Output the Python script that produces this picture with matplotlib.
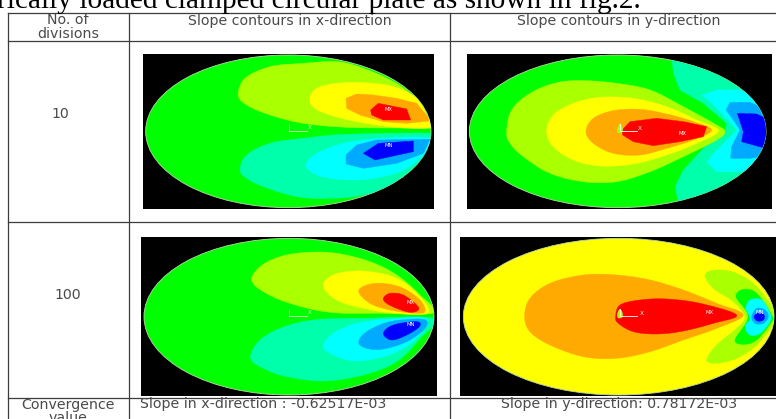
import numpy as np
import matplotlib
matplotlib.use("Agg")
import matplotlib.pyplot as plt
from matplotlib.patches import Polygon, Ellipse, Rectangle

GREEN = "#00ff00"; LIME = "#aaff00"; YELLOW = "#ffff00"; ORANGE = "#ffaa00"; RED = "#ff0000"
TEAL = "#00ffaa"; CYAN = "#00ffff"; SKY = "#00aaff"; BLUE = "#0000ff"

caption = "rically loaded clamped circular plate as shown in fig.2."
header_labels = ["No. of\ndivisions", "Slope contours in x-direction", "Slope contours in y-direction"]
division_labels = ["10", "100"]
footer_labels = ["Convergence\nvalue", "Slope in x-direction : -0.62517E-03", "Slope in y-direction: 0.78172E-03"]

# Contour bands: (colour, outline, smooth?)
panel_a_bands = [
    (LIME, [(325,165),(345,115),(420,80),(520,70),(620,65),(700,85),(790,125),(850,170),(900,240),(905,264),(800,264),(650,262),(520,250),(420,225),(350,195)], True),
    (YELLOW, [(538,178),(560,145),(620,130),(700,128),(790,140),(860,175),(895,235),(905,262),(800,262),(680,245),(600,225),(555,205)], True),
    (ORANGE, [(648,175),(680,162),(730,165),(800,175),(860,190),(893,230),(897,243),(830,250),(760,245),(690,225),(650,205)], False),
    (RED, [(722,210),(745,190),(830,207),(842,240),(760,240),(725,225)], False),
    (TEAL, [(330,390),(350,345),(420,310),(520,295),(650,283),(910,280),(900,300),(870,370),(800,430),(700,465),(600,475),(500,470),(400,440),(350,415)], True),
    (CYAN, [(528,375),(560,340),(640,310),(750,295),(905,295),(885,340),(830,385),(760,410),(680,420),(600,415),(550,400)], True),
    (SKY, [(648,345),(680,315),(740,300),(900,298),(880,340),(800,370),(700,385),(648,372)], False),
    (BLUE, [(700,340),(745,310),(850,303),(850,335),(780,350),(735,360)], False),
]
panel_b_bands = [
    (TEAL, [(665,45),(670,100),(690,150),(760,190),(830,250),(826,275),(760,325),(700,390),(675,440),(690,510),(1000,510),(1000,45)], False),
    (CYAN, [(757,165),(800,150),(870,150),(1000,200),(1000,350),(880,395),(800,395),(770,365),(800,330),(860,270),(800,205)], False),
    (SKY, [(828,210),(840,187),(900,187),(1000,230),(1000,340),(900,355),(842,355),(845,320),(870,270),(850,240)], False),
    (BLUE, [(862,220),(920,222),(1000,260),(1000,320),(935,322),(875,305),(880,275)], False),
    (LIME, [(170,274),(185,210),(240,160),(320,128),(400,122),(500,130),(600,150),(700,200),(800,255),(825,275),(800,300),(700,350),(600,395),(500,425),(400,425),(300,400),(220,350),(180,310)], True),
    (YELLOW, [(290,274),(310,225),(370,190),(450,172),(550,175),(650,200),(740,240),(805,272),(740,310),(650,345),(550,372),(450,378),(370,360),(310,320)], True),
    (ORANGE, [(408,274),(430,235),(490,212),(570,208),(650,222),(730,245),(785,270),(730,300),(650,325),(570,345),(490,340),(430,310)], True),
    (RED, [(516,270),(540,245),(620,235),(700,245),(770,260),(760,290),(690,305),(610,317),(550,305),(518,285)], False),
    (LIME, [(502,268),(510,252),(518,268),(514,278),(504,278)], True),
]
panel_c_bands = [
    (LIME, [(365,165),(390,125),(450,95),(530,82),(620,85),(720,110),(800,150),(870,210),(910,264),(750,265),(600,262),(480,235),(400,200)], True),
    (YELLOW, [(580,185),(600,155),(650,140),(720,140),(800,160),(860,205),(895,262),(800,265),(700,250),(620,225)], True),
    (ORANGE, [(686,200),(710,180),(760,175),(820,190),(870,225),(885,258),(860,265),(780,255),(720,235)], True),
    (RED, [(760,220),(780,205),(820,210),(860,240),(865,255),(840,262),(800,250),(770,235)], True),
    (TEAL, [(362,400),(385,350),(450,310),(550,285),(700,280),(910,280),(870,340),(800,410),(700,450),(580,468),(470,455),(400,430)], True),
    (CYAN, [(580,365),(610,325),(680,295),(780,282),(890,282),(860,340),(790,385),(690,408),(620,395)], True),
    (SKY, [(686,352),(710,320),(780,290),(880,283),(885,310),(830,350),(760,372),(710,370)], True),
    (BLUE, [(760,325),(790,300),(860,290),(868,305),(830,330),(785,345)], True),
]
panel_d_bands = [
    (ORANGE, [(224,274),(240,220),(300,175),(400,150),(500,150),(600,165),(700,195),(800,235),(880,270),(800,310),(700,345),(600,380),(500,400),(400,395),(300,360),(240,320)], True),
    (RED, [(497,275),(510,240),(570,225),(650,222),(750,235),(860,270),(790,295),(700,318),(620,327),(550,320),(505,295)], True),
    (LIME, [(765,150),(800,135),(860,145),(920,185),(975,260),(975,290),(920,360),(860,400),(800,415),(770,405),(800,360),(860,310),(885,275),(850,230),(790,190)], True),
    (GREEN, [(858,215),(880,193),(920,205),(965,270),(965,290),(920,345),(880,358),(855,345),(890,290),(890,260)], True),
    (CYAN, [(888,250),(900,225),(935,225),(960,265),(960,290),(930,325),(900,330),(885,305),(900,280)], True),
    (SKY, [(905,275),(920,250),(945,255),(955,275),(940,295),(915,295)], True),
    (BLUE, [(912,275),(925,263),(942,270),(940,285),(922,288)], True),
    (LIME, [(502,268),(510,252),(518,268),(514,278),(504,278)], True),
]

panels = [
    dict(org=(130,40), frame=(40,42,913,507), ell=(475,274,428,229), base=GREEN, bands=panel_a_bands,
         labels=[("MX",775,207),("MN",775,315)], triad=(478,272,"#dfe8c0"), axis=("X",540,263)),
    dict(org=(450,40), frame=(50,42,965,507), ell=(503,274,445,229), base=GREEN, bands=panel_b_bands,
         labels=[("MX",697,279)], triad=(510,272,"#ffffff"), axis=("X",568,265)),
    dict(org=(130,225), frame=(32,35,922,513), ell=(477,275,435,235), base=GREEN, bands=panel_c_bands,
         labels=[("MX",842,232),("MN",842,297)], triad=(478,272,"#dfe8c0"), axis=("X",540,263)),
    dict(org=(450,225), frame=(30,35,978,513), ell=(506,275,466,235), base=YELLOW, bands=panel_d_bands,
         labels=[("MX",778,263),("MN",930,263)], triad=(510,272,"#ffffff"), axis=("X",575,265)),
]


def smooth_closed(pts, n=12):
    p = np.asarray(pts, float)
    out = []
    N = len(p)
    for i in range(N):
        p0, p1, p2, p3 = p[(i-1) % N], p[i], p[(i+1) % N], p[(i+2) % N]
        for t in np.linspace(0, 1, n, endpoint=False):
            out.append(0.5*((2*p1)+(-p0+p2)*t+(2*p0-5*p1+4*p2-p3)*t**2+(-p0+3*p1-3*p2+p3)*t**3))
    return np.array(out)


plt.rcParams["font.family"] = ["DejaVu Sans"]
fig = plt.figure(figsize=(7.76, 4.19), dpi=100, facecolor="white")
ax = fig.add_axes([0, 0, 1, 1])
ax.set_xlim(0, 776); ax.set_ylim(419, 0); ax.axis("off")

for p in panels:
    ox, oy = p["org"]
    tr = lambda a: np.column_stack([ox + np.asarray(a, float)[:, 0]/3, oy + np.asarray(a, float)[:, 1]/3])
    x0, y0, x1, y1 = p["frame"]
    ax.add_patch(Rectangle((ox+x0/3, oy+y0/3), (x1-x0)/3, (y1-y0)/3, fc="black", ec="none", zorder=1))
    cx, cy, rx, ry = p["ell"]
    clip = Ellipse((ox+cx/3, oy+cy/3), 2*rx/3, 2*ry/3, fc=p["base"], ec="#b8d8a8", lw=0.6, zorder=2)
    ax.add_patch(clip)
    for i, (col, pts, smooth) in enumerate(p["bands"]):
        outline = smooth_closed(pts) if smooth else np.asarray(pts, float)
        poly = Polygon(tr(outline), closed=True, fc=col, ec=col, lw=0.3, zorder=3+i*0.01)
        ax.add_patch(poly)
        poly.set_clip_path(clip)
    for s, lx, ly in p["labels"]:
        ax.text(ox+lx/3, oy+ly/3, s, color="white", fontsize=3.8, ha="center", va="center", zorder=5)
    tx, ty, tc = p["triad"]
    ax.plot([ox+tx/3, ox+tx/3, ox+(tx+52)/3], [oy+(ty-20)/3, oy+ty/3, oy+ty/3], color=tc, lw=0.6, zorder=5)
    s, lx, ly = p["axis"]
    ax.text(ox+lx/3, oy+ly/3, s, color=tc, fontsize=4.2, ha="center", va="center", zorder=5)

# table rules
line = "#3c3c3c"
for y in [13, 41, 222, 398]:
    ax.plot([8, 776], [y, y], color=line, lw=0.9, zorder=6)
for x in [8, 129, 450]:
    ax.plot([x, x], [13, 419], color=line, lw=0.9, zorder=6)

txt = dict(color="#4a4a4a", fontsize=10.2, zorder=7)
ax.text(68, 20.5, header_labels[0].split("\n")[0], ha="center", va="center", **txt)
ax.text(68, 33.5, header_labels[0].split("\n")[1], ha="center", va="center", **txt)
ax.text(290, 20.5, header_labels[1], ha="center", va="center", **txt)
ax.text(619, 20.5, header_labels[2], ha="center", va="center", **txt)
ax.text(60, 114, division_labels[0], ha="center", va="center", **txt)
ax.text(68, 295, division_labels[1], ha="center", va="center", **txt)
ax.text(68, 404.5, footer_labels[0].split("\n")[0], ha="center", va="center", **txt)
ax.text(68, 418, footer_labels[0].split("\n")[1], ha="center", va="center", **txt)
ax.text(140, 404, footer_labels[1], ha="left", va="center", **txt)
ax.text(619, 404, footer_labels[2], ha="center", va="center", **txt)

ax.text(-3, 8, caption, family="Liberation Serif", fontsize=21.2, color="black", ha="left", va="baseline", zorder=7)

fig.savefig("out.png", dpi=100, facecolor="white")
